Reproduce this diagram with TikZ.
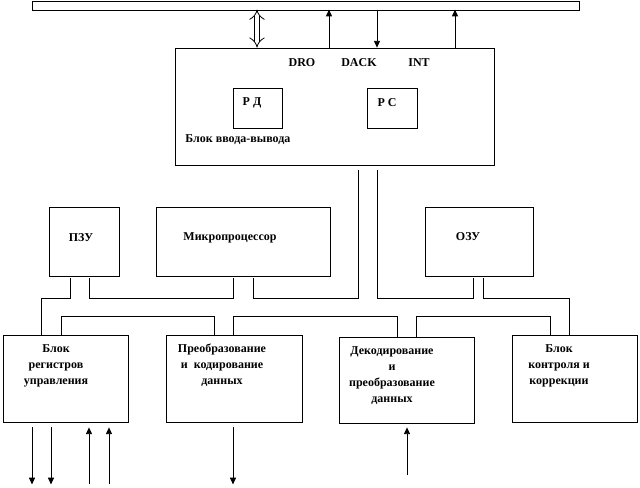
\documentclass[tikz,border=0pt]{standalone}
\usepackage{fontspec}
\setmainfont{Liberation Serif}
\usetikzlibrary{arrows.meta}
\newcommand{\pxu}{0.75pt}

\begin{document}
\begin{tikzpicture}
		[x=0.75pt,y=-0.75pt,line width=0.6pt,
		blk/.style 2 args={draw,inner sep=0pt,minimum width=#1*\pxu,minimum height=#2*\pxu},
		txt/.style={font=\bfseries\fontsize{9}{12}\selectfont,inner sep=0pt,align=center},
		arr/.style={-{Triangle[length=5pt,width=4.5pt]}},
		rarr/.style={{Triangle[length=5pt,width=4.5pt]}-}]

		\useasboundingbox (0,0) rectangle (640,487);

		% upper part
		\node[blk={547}{9}] (bus) at (305.5,5.5) {};
		\node[blk={319}{117}] (io) at (334.5,106.5) {};
		\node[blk={49}{40}] (rd) at (257.5,108) {};
		\node[blk={50}{40}] (rc) at (392,108) {};

		\node[txt] (dro) at (302,63) {DRO};
		\node[txt] (dack) at (359,63) {DACK};
		\node[txt] (int) at (419,63) {INT};
		\node[txt] (rd-t) at (252,103) {Р Д};
		\node[txt] (rc-t) at (387,103) {Р С};
		\node[txt,anchor=west] (io-t) at (185,140) {Блок ввода-вывода};

		\draw[double,double distance=3.5pt,{Implies}-{Implies}] ([xshift=-77.5*\pxu]io.north) -- ++(0,-38);
		\draw[arr] ([xshift=-5.5*\pxu]io.north) -- ++(0,-38);
		\draw[rarr] ([xshift=42.5*\pxu]io.north) -- ++(0,-38);
		\draw[arr] ([xshift=120.5*\pxu]io.north) -- ++(0,-38);

		% middle row
		\node[blk={70}{69}] (pzu) at (84,241.5) {};
		\node[blk={174}{69}] (mp) at (243,241.5) {};
		\node[blk={108}{69}] (ozu) at (479,241.5) {};

		\node[txt] (pzu-t) at (81,238) {ПЗУ};
		\node[txt] (mp-t) at (230,238) {Микропроцессор};
		\node[txt] (ozu-t) at (468,237) {ОЗУ};

		% lower row
		\node[blk={125}{87}] (br) at (65.5,378.5) {};
		\node[blk={136}{87}] (pk) at (234,378.5) {};
		\node[blk={135}{86}] (dp) at (406.5,380) {};
		\node[blk={125}{87}] (bk) at (574.5,378.5) {};

		\node[txt,anchor=north] (br-t) at (56,344) {Блок\\регистров\\управления};
		\node[txt,anchor=north] (pk-t) at (222,344) {Преобразование\\и\ \ кодирование\\данных};
		\node[txt,anchor=north] (dp-t) at (392,346) {Декодирование\\и\\преобразование\\данных};
		\node[txt,anchor=north] (bk-t) at (559,344) {Блок\\контроля и\\коррекции};

		% links, first level
		\draw ([xshift=-14*\pxu,yshift=-2*\pxu]pzu.south) -- ++(0,20) -| ([xshift=-24.5*\pxu]br.north);
		\draw ([xshift=5*\pxu,yshift=-2*\pxu]pzu.south) -- ++(0,20) -| ([xshift=-10*\pxu,yshift=-2*\pxu]mp.south);
		\draw[shorten >=3.75pt] ([xshift=10*\pxu,yshift=-2*\pxu]mp.south) -- ++(0,20) -| ([xshift=23.5*\pxu]io.south);
		\draw[shorten <=3.75pt] ([xshift=42.5*\pxu]io.south) |- ++(0,133) -| ([xshift=-6*\pxu,yshift=-2*\pxu]ozu.south);
		\draw ([xshift=4*\pxu,yshift=-2*\pxu]ozu.south) -- ++(0,20) -| ([xshift=-5.5*\pxu]bk.north);

		% links, second level
		\draw ([xshift=-4.5*\pxu]br.north) -- ++(0,-18) -| ([xshift=-20*\pxu]pk.north);
		\draw ([xshift=-1*\pxu]pk.north) -- ++(0,-18) -| ([xshift=-9.5*\pxu]dp.north);
		\draw ([xshift=9.5*\pxu]dp.north) -- ++(0,-20) -| ([xshift=-24.5*\pxu]bk.north);

		% outputs
		\draw[arr] ([xshift=-33.5*\pxu,yshift=-5*\pxu]br.south) -- ++(0,57);
		\draw[arr] ([xshift=-14.5*\pxu,yshift=-5*\pxu]br.south) -- ++(0,57);
		\draw[arr] ([xshift=23.5*\pxu,yshift=-62*\pxu]br.south) -- ++(0,-57);
		\draw[arr] ([xshift=43.5*\pxu,yshift=-62*\pxu]br.south) -- ++(0,-57);
		\draw[arr] ([xshift=-1*\pxu,yshift=-5*\pxu]pk.south) -- ++(0,57);
		\draw[arr] ([xshift=0.5*\pxu,yshift=-52*\pxu]dp.south) -- ++(0,-48);

	\end{tikzpicture}
\end{document}
